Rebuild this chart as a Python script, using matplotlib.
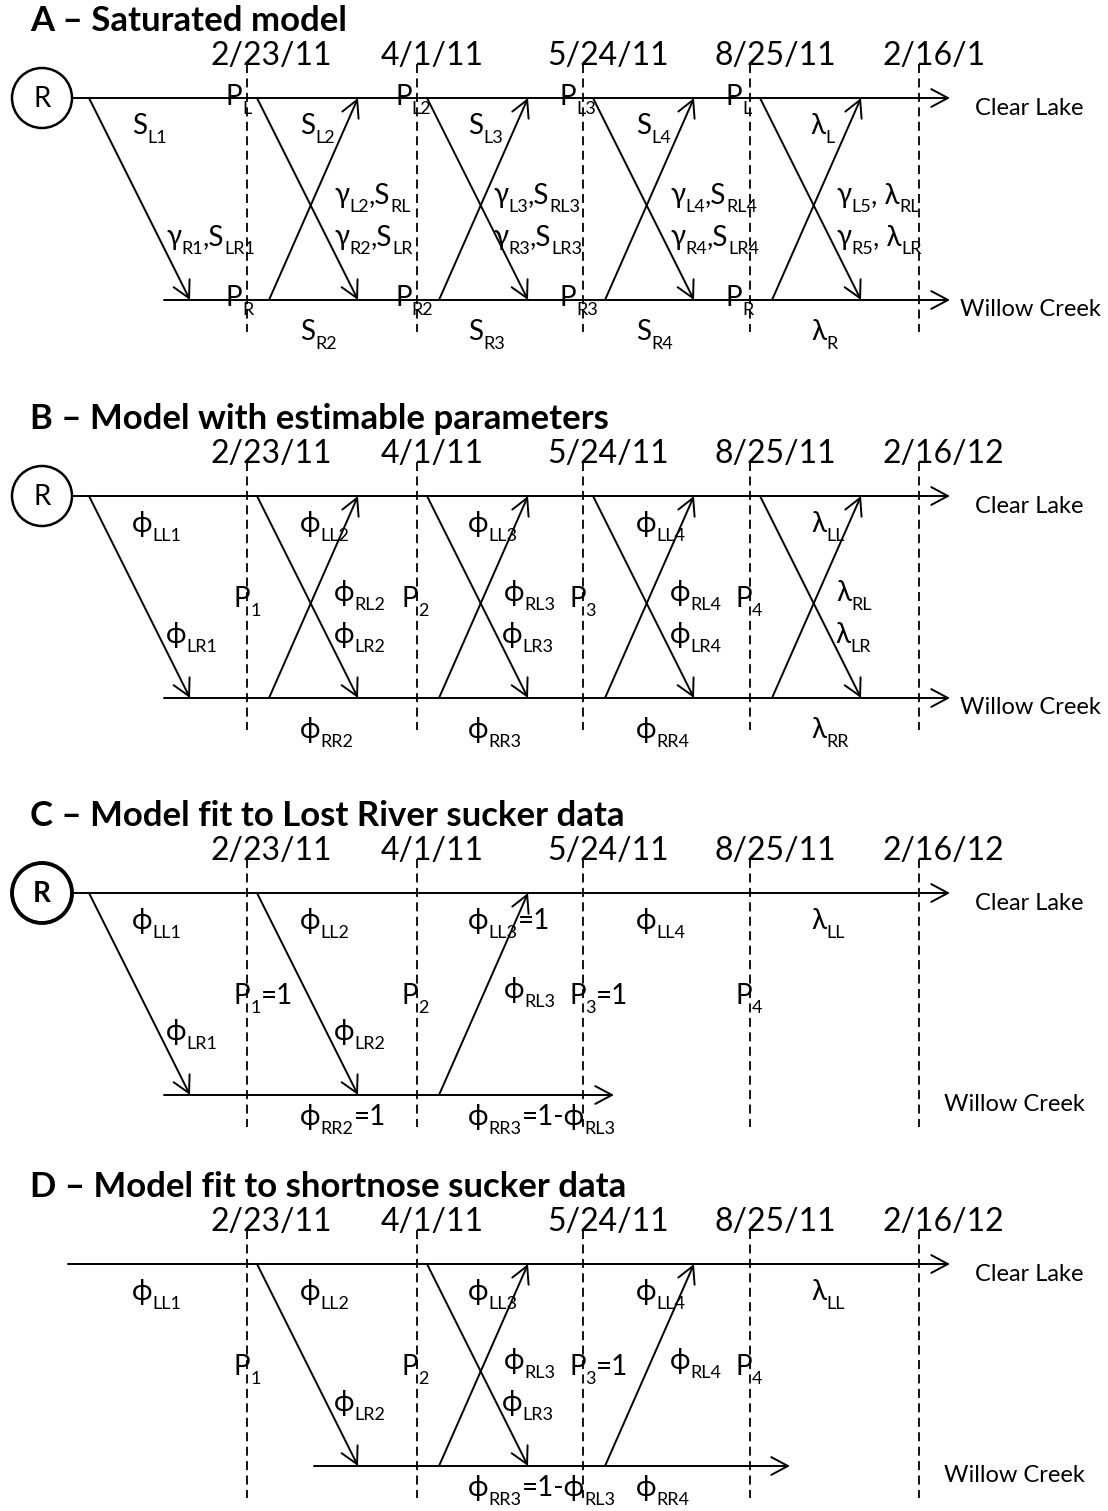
import matplotlib.pyplot as plt
from matplotlib.patches import Circle

plt.rcParams['font.family'] = ['Lato', 'DejaVu Sans']

# panel titles and sampling dates
titles = ['A – Saturated model',
          'B – Model with estimable parameters',
          'C – Model fit to Lost River sucker data',
          'D – Model fit to shortnose sucker data']
dates = [['2/23/11', '4/1/11', '5/24/11', '8/25/11', '2/16/1'],
         ['2/23/11', '4/1/11', '5/24/11', '8/25/11', '2/16/12'],
         ['2/23/11', '4/1/11', '5/24/11', '8/25/11', '2/16/12'],
         ['2/23/11', '4/1/11', '5/24/11', '8/25/11', '2/16/12']]

# transitions drawn in each panel: interval index (0 = release)
moves_down = [[0, 1, 2, 3, 4], [0, 1, 2, 3, 4], [0, 1], [1, 2]]
moves_up = [[1, 2, 3, 4], [1, 2, 3, 4], [2], [2, 3]]

# parameter labels: (column x, row, pieces); pieces are (text, subscript?)
G, S, PH, LA = 'γ', 'S', 'ϕ', 'λ'
labels_a = [
    (132, 'top', [(S, 0), ('L1', 1)]), (300, 'top', [(S, 0), ('L2', 1)]),
    (468, 'top', [(S, 0), ('L3', 1)]), (636, 'top', [(S, 0), ('L4', 1)]),
    (810, 'top', [(LA, 0), ('L', 1)]),
    (334, 'mid1', [(G, 0), ('L2', 1), (',S', 0), ('RL', 1)]),
    (493, 'mid1', [(G, 0), ('L3', 1), (',S', 0), ('RL3', 1)]),
    (670, 'mid1', [(G, 0), ('L4', 1), (',S', 0), ('RL4', 1)]),
    (836, 'mid1', [(G, 0), ('L5', 1), (', ' + LA, 0), ('RL', 1)]),
    (166, 'mid2', [(G, 0), ('R1', 1), (',S', 0), ('LR1', 1)]),
    (334, 'mid2', [(G, 0), ('R2', 1), (',S', 0), ('LR', 1)]),
    (493, 'mid2', [(G, 0), ('R3', 1), (',S', 0), ('LR3', 1)]),
    (670, 'mid2', [(G, 0), ('R4', 1), (',S', 0), ('LR4', 1)]),
    (836, 'mid2', [(G, 0), ('R5', 1), (', ' + LA, 0), ('LR', 1)]),
    (300, 'bot', [(S, 0), ('R2', 1)]), (468, 'bot', [(S, 0), ('R3', 1)]),
    (636, 'bot', [(S, 0), ('R4', 1)]), (811, 'bot', [(LA, 0), ('R', 1)]),
    (226, 'ptop', [('P', 0), ('L', 1)]), (395, 'ptop', [('P', 0), ('L2', 1)]),
    (560, 'ptop', [('P', 0), ('L3', 1)]), (726, 'ptop', [('P', 0), ('L', 1)]),
    (226, 'pbot', [('P', 0), ('R', 1)]), (395, 'pbot', [('P', 0), ('R2', 1)]),
    (560, 'pbot', [('P', 0), ('R3', 1)]), (726, 'pbot', [('P', 0), ('R', 1)]),
]
labels_b = [
    (132, 'top', [(PH, 0), ('LL1', 1)]), (300, 'top', [(PH, 0), ('LL2', 1)]),
    (468, 'top', [(PH, 0), ('LL3', 1)]), (636, 'top', [(PH, 0), ('LL4', 1)]),
    (811, 'top', [(LA, 0), ('LL', 1)]),
    (334, 'mid1', [(PH, 0), ('RL2', 1)]), (504, 'mid1', [(PH, 0), ('RL3', 1)]),
    (670, 'mid1', [(PH, 0), ('RL4', 1)]), (836, 'mid1', [(LA, 0), ('RL', 1)]),
    (234, 'p', [('P', 0), ('1', 1)]), (402, 'p', [('P', 0), ('2', 1)]),
    (569, 'p', [('P', 0), ('3', 1)]), (735, 'p', [('P', 0), ('4', 1)]),
    (166, 'mid2', [(PH, 0), ('LR1', 1)]), (334, 'mid2', [(PH, 0), ('LR2', 1)]),
    (502, 'mid2', [(PH, 0), ('LR3', 1)]), (670, 'mid2', [(PH, 0), ('LR4', 1)]),
    (835, 'mid2', [(LA, 0), ('LR', 1)]),
    (300, 'bot', [(PH, 0), ('RR2', 1)]), (468, 'bot', [(PH, 0), ('RR3', 1)]),
    (636, 'bot', [(PH, 0), ('RR4', 1)]), (811, 'bot', [(LA, 0), ('RR', 1)]),
]
labels_c = [
    (132, 'top', [(PH, 0), ('LL1', 1)]), (300, 'top', [(PH, 0), ('LL2', 1)]),
    (468, 'top', [(PH, 0), ('LL3', 1), ('=1', 0)]),
    (636, 'top', [(PH, 0), ('LL4', 1)]), (811, 'top', [(LA, 0), ('LL', 1)]),
    (504, 'mid1', [(PH, 0), ('RL3', 1)]),
    (234, 'p', [('P', 0), ('1', 1), ('=1', 0)]), (402, 'p', [('P', 0), ('2', 1)]),
    (569, 'p', [('P', 0), ('3', 1), ('=1', 0)]), (735, 'p', [('P', 0), ('4', 1)]),
    (166, 'mid2', [(PH, 0), ('LR1', 1)]), (334, 'mid2', [(PH, 0), ('LR2', 1)]),
    (300, 'bot2', [(PH, 0), ('RR2', 1), ('=1', 0)]),
    (468, 'bot2', [(PH, 0), ('RR3', 1), ('=1-' + PH, 0), ('RL3', 1)]),
]
labels_d = [
    (132, 'top', [(PH, 0), ('LL1', 1)]), (300, 'top', [(PH, 0), ('LL2', 1)]),
    (468, 'top', [(PH, 0), ('LL3', 1)]), (636, 'top', [(PH, 0), ('LL4', 1)]),
    (811, 'top', [(LA, 0), ('LL', 1)]),
    (504, 'mid1', [(PH, 0), ('RL3', 1)]), (670, 'mid1', [(PH, 0), ('RL4', 1)]),
    (234, 'p', [('P', 0), ('1', 1)]), (402, 'p', [('P', 0), ('2', 1)]),
    (569, 'p', [('P', 0), ('3', 1), ('=1', 0)]), (735, 'p', [('P', 0), ('4', 1)]),
    (334, 'mid2', [(PH, 0), ('LR2', 1)]), (502, 'mid2', [(PH, 0), ('LR3', 1)]),
    (468, 'bot2', [(PH, 0), ('RR3', 1), ('=1-' + PH, 0), ('RL3', 1)]),
    (636, 'bot2', [(PH, 0), ('RR4', 1)]),
]
panel_labels = [labels_a, labels_b, labels_c, labels_d]

# layout (pixel units, y grows downward)
panel_y = [98, 496, 893, 1264]
date_x = [247, 417, 583, 750, 919]
release_x = 79
gap = 202
rows = {'top': 36, 'mid1': 105, 'p': 111, 'mid2': 147, 'bot': 242,
        'bot2': 232, 'ptop': 7, 'pbot': gap + 6}
# horizontal tracks for Clear Lake and Willow Creek: (start, end)
lake_track = [(72, 950), (72, 950), (72, 950), (68, 950)]
creek_track = [(164, 950), (164, 950), (164, 614), (314, 790)]
creek_text_x = [960, 960, 944, 944]
circle_style = [(1.8, 'normal'), (1.8, 'normal'), (2.8, 'bold'), None]

fig = plt.figure(figsize=(11.08, 15.11), dpi=100)
ax = fig.add_axes([0, 0, 1, 1])
ax.set_xlim(0, 1108)
ax.set_ylim(1511, 0)
ax.axis('off')
renderer = fig.canvas.get_renderer()

LW = 1.4
ARROW = dict(arrowstyle='->,head_length=0.6,head_width=0.32', mutation_scale=20,
             lw=LW, color='black', shrinkA=0, shrinkB=0)


def arrow(x0, y0, x1, y1):
    ax.annotate('', xy=(x1, y1), xytext=(x0, y0), arrowprops=ARROW)


def label(x, y, pieces, size=20, sub_size=13, drop=9):
    for txt, is_sub in pieces:
        t = ax.text(x, y + (drop if is_sub else 0), txt,
                    fontsize=sub_size if is_sub else size,
                    ha='left', va='baseline')
        x += t.get_window_extent(renderer).width


for i, y0 in enumerate(panel_y):
    y1 = y0 + gap
    ax.text(30, y0 - 67, titles[i], fontsize=25, fontweight='bold',
            ha='left', va='baseline')
    for dx, d in zip(date_x, dates[i]):
        ax.text(dx - 36, y0 - 33, d, fontsize=23, ha='left', va='baseline')
        ax.plot([dx, dx], [y0 - 34, y0 + 234], color='black', lw=1.3,
                ls=(0, (5, 3)))

    # release point
    if circle_style[i] is not None:
        clw, cw = circle_style[i]
        ax.add_patch(Circle((42, y0), 30, fill=False, lw=clw, ec='black'))
        ax.text(42, y0 + 1, 'R', fontsize=20, fontweight=cw,
                ha='center', va='center')

    # Clear Lake and Willow Creek time tracks
    arrow(lake_track[i][0], y0, lake_track[i][1], y0)
    arrow(creek_track[i][0], y1, creek_track[i][1], y1)
    ax.text(975, y0 + 17, 'Clear Lake', fontsize=17, ha='left', va='baseline')
    ax.text(creek_text_x[i], y1 + 16, 'Willow Creek', fontsize=17,
            ha='left', va='baseline')

    # movements between the two sites
    starts = [release_x] + date_x
    for k in moves_down[i]:
        arrow(starts[k] + 10, y0, starts[k] + 111, y1)
    for k in moves_up[i]:
        arrow(starts[k] + 22, y1, starts[k] + 111, y0)

    for x, row, pieces in panel_labels[i]:
        label(x, y0 + rows[row], pieces)

fig.savefig('out.png', dpi=100)
